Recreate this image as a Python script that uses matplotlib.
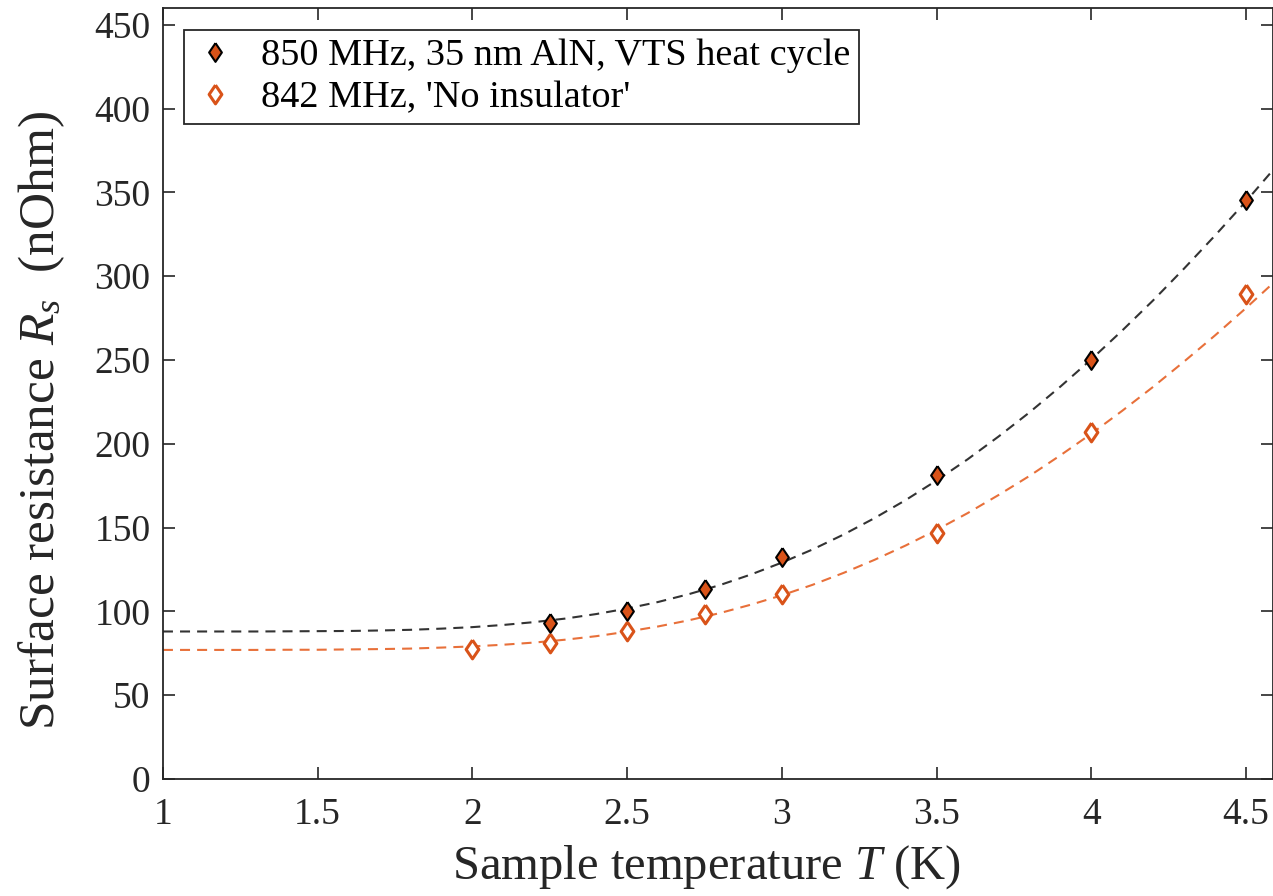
import matplotlib
matplotlib.use("Agg")
import matplotlib.pyplot as plt
from matplotlib.ticker import FormatStrFormatter

plt.rcParams["font.family"] = ["Liberation Serif", "DejaVu Serif"]
plt.rcParams["mathtext.fontset"] = "custom"
plt.rcParams["mathtext.rm"] = "Liberation Serif"
plt.rcParams["mathtext.it"] = "Liberation Serif:italic"

# measured points (K, nOhm)
t_aln = [2.25, 2.5, 2.75, 3.0, 3.5, 4.0, 4.5]
rs_aln = [93.1, 100.5, 113.4, 132.5, 181.4, 250.0, 345.5]
t_noins = [2.0, 2.25, 2.5, 2.75, 3.0, 3.5, 4.0, 4.5]
rs_noins = [77.6, 81.1, 88.3, 98.4, 110.4, 147.0, 207.3, 289.4]

# fitted curves
t_fit = [1.0, 1.1, 1.2, 1.3, 1.4, 1.5, 1.6, 1.7, 1.8, 1.9,
         2.0, 2.1, 2.2, 2.3, 2.4, 2.5, 2.6, 2.7, 2.8, 2.9,
         3.0, 3.1, 3.2, 3.3, 3.4, 3.5, 3.6, 3.7, 3.8, 3.9,
         4.0, 4.1, 4.2, 4.3, 4.4, 4.5, 4.6]
fit_aln = [88.0, 88.0, 88.0, 88.0, 88.1, 88.2, 88.3, 88.6, 89.0, 89.7,
           90.6, 91.9, 93.6, 95.7, 98.4, 101.7, 105.6, 110.3, 115.7, 122.0,
           129.1, 137.0, 145.9, 155.7, 166.4, 178.1, 190.7, 204.3, 218.7, 234.1,
           250.4, 267.6, 285.6, 304.6, 324.3, 344.7, 366.1]
fit_noins = [77.0, 77.0, 77.0, 77.0, 77.1, 77.1, 77.3, 77.5, 77.8, 78.4,
             79.1, 80.1, 81.4, 83.1, 85.2, 87.9, 91.0, 94.7, 99.0, 104.0,
             109.6, 115.9, 123.0, 130.8, 139.3, 148.6, 158.6, 169.4, 180.8, 193.1,
             206.0, 219.7, 234.0, 249.1, 264.7, 281.0, 298.0]

labels = ["850 MHz, 35 nm AlN, VTS heat cycle", "842 MHz, 'No insulator'"]
orange = "#D95319"
diamond = [(0, 1), (0.68, 0), (0, -1), (-0.68, 0), (0, 1)]

fig = plt.figure(figsize=(12.73, 8.96), dpi=100)
ax = fig.add_axes([0.128, 0.1306, 0.872, 0.8605])

dash = (0, (4.8, 3.4))
ax.plot(t_fit, fit_aln, color="#333333", lw=1.5, linestyle=dash)
ax.plot(t_fit, fit_noins, color="#E8703A", lw=1.5, linestyle=dash)

ax.plot(t_aln, rs_aln, linestyle="none", marker=diamond, ms=13.5,
        mfc=orange, mec="black", mew=1.5, label=labels[0])
ax.plot(t_noins, rs_noins, linestyle="none", marker=diamond, ms=13.5,
        mfc="white", mec=orange, mew=2.2, label=labels[1])

ax.set_xlim(1, 4.587)
ax.set_ylim(0, 460)
ax.set_xticks([1, 1.5, 2, 2.5, 3, 3.5, 4, 4.5])
ax.set_yticks(range(0, 451, 50))
ax.xaxis.set_major_formatter(FormatStrFormatter("%g"))

ax.tick_params(direction="in", length=8.5, width=1.2, top=True, right=True,
               labelsize=27, colors="#262626")
ax.tick_params(axis="x", pad=13)
ax.tick_params(axis="y", pad=9)
for s in ax.spines.values():
    s.set_linewidth(1.3)
    s.set_color("#262626")

ax.set_xlabel("Sample temperature $T$ (K)", fontsize=35, color="#262626")
ax.set_ylabel("Surface resistance $R_s$  (nOhm)", fontsize=37, color="#262626")
ax.xaxis.set_label_coords(0.49, -0.083)
ax.yaxis.set_label_coords(-0.086, 0.466)

leg = ax.legend(loc="upper left", bbox_to_anchor=(0.019, 0.9715), borderaxespad=0,
                fontsize=27.5, fancybox=False, framealpha=1, edgecolor="#262626",
                handlelength=1.2, handletextpad=0.6, borderpad=0.22, labelspacing=0.2)
leg.get_frame().set_linewidth(1.3)

fig.savefig("out.png", dpi=100)
